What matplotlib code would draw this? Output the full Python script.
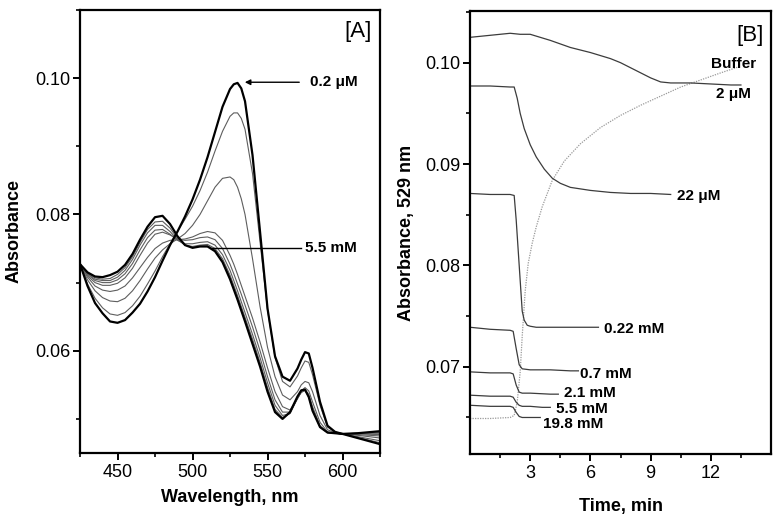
import matplotlib
matplotlib.use("Agg")
import matplotlib.pyplot as plt
from matplotlib.ticker import MultipleLocator, FormatStrFormatter

plt.rcParams['font.family'] = ['Liberation Sans', 'DejaVu Sans']

# ---------------- Panel A data: absorption spectra ----------------
wavelength = [425, 430, 435, 440, 445, 450, 455, 460, 465, 470, 475, 480, 485, 490,
              495, 500, 505, 510, 515, 520, 525, 527.5, 530, 532.5, 535, 540, 545, 550,
              555, 560, 565, 570, 572.5, 575, 577.5, 580, 585, 590, 595, 600, 610, 625]

spec_0p2uM = [0.0727, 0.0695, 0.0670, 0.0655, 0.0643, 0.0641, 0.0645, 0.0656, 0.0669, 0.0687,
              0.0708, 0.0732, 0.0755, 0.0775, 0.0797, 0.0822, 0.0851, 0.0884, 0.0921, 0.0958,
              0.0984, 0.0991, 0.0993, 0.0985, 0.0966, 0.0887, 0.0775, 0.0662,
              0.0592, 0.0562, 0.0556, 0.0574, 0.0587, 0.0598, 0.0596, 0.0575,
              0.0525, 0.0490, 0.0481, 0.0478, 0.0472, 0.0463]
spec_c2 = [0.0726, 0.0698, 0.0677, 0.0663, 0.0654, 0.0652, 0.0656, 0.0666, 0.0680, 0.0698,
           0.0717, 0.0738, 0.0757, 0.0775, 0.0793, 0.0812, 0.0835, 0.0862, 0.0893, 0.0922,
           0.0944, 0.0949, 0.0949, 0.0941, 0.0925, 0.0860, 0.0760, 0.0660,
           0.0590, 0.0555, 0.0547, 0.0563, 0.0575, 0.0585, 0.0583, 0.0565,
           0.0520, 0.0488, 0.0481, 0.0478, 0.0473, 0.0465]
spec_c3 = [0.0726, 0.0704, 0.0688, 0.0678, 0.0673, 0.0672, 0.0677, 0.0688, 0.0703, 0.0720,
           0.0736, 0.0748, 0.0757, 0.0764, 0.0772, 0.0784, 0.0800, 0.0820, 0.0840, 0.0853,
           0.0855, 0.0851, 0.0840, 0.0823, 0.0800, 0.0735, 0.0665, 0.0605,
           0.0562, 0.0535, 0.0528, 0.0540, 0.0550, 0.0555, 0.0553, 0.0540,
           0.0505, 0.0484, 0.0480, 0.0478, 0.0474, 0.0468]
spec_c4 = [0.0726, 0.0708, 0.0695, 0.0689, 0.0687, 0.0689, 0.0695, 0.0707, 0.0722, 0.0737,
           0.0750, 0.0758, 0.0762, 0.0763, 0.0764, 0.0767, 0.0772, 0.0775, 0.0773, 0.0762,
           0.0740, 0.0727, 0.0712, 0.0696, 0.0680, 0.0648, 0.0613, 0.0575,
           0.0540, 0.0518, 0.0513, 0.0530, 0.0541, 0.0546, 0.0541, 0.0525,
           0.0495, 0.0481, 0.0479, 0.0478, 0.0476, 0.0472]
spec_c5 = [0.0726, 0.0710, 0.0700, 0.0696, 0.0696, 0.0699, 0.0707, 0.0721, 0.0740, 0.0758,
           0.0771, 0.0774, 0.0770, 0.0764, 0.0762, 0.0763, 0.0766, 0.0767, 0.0763, 0.0750,
           0.0727, 0.0713, 0.0698, 0.0683, 0.0667, 0.0635, 0.0600, 0.0562,
           0.0528, 0.0510, 0.0510, 0.0530, 0.0540, 0.0543, 0.0536, 0.0518,
           0.0490, 0.0480, 0.0479, 0.0478, 0.0477, 0.0475]
spec_c6 = [0.0726, 0.0712, 0.0703, 0.0700, 0.0700, 0.0704, 0.0713, 0.0728, 0.0748, 0.0766,
           0.0777, 0.0778, 0.0771, 0.0762, 0.0757, 0.0757, 0.0759, 0.0760, 0.0755, 0.0741,
           0.0718, 0.0703, 0.0688, 0.0672, 0.0656, 0.0624, 0.0590, 0.0553,
           0.0520, 0.0505, 0.0508, 0.0530, 0.0539, 0.0542, 0.0534, 0.0516,
           0.0489, 0.0480, 0.0479, 0.0478, 0.0478, 0.0477]
spec_c7 = [0.0727, 0.0713, 0.0705, 0.0703, 0.0703, 0.0708, 0.0718, 0.0734, 0.0755, 0.0773,
           0.0784, 0.0784, 0.0775, 0.0763, 0.0755, 0.0753, 0.0755, 0.0756, 0.0750, 0.0735,
           0.0711, 0.0696, 0.0681, 0.0665, 0.0649, 0.0617, 0.0583, 0.0546,
           0.0514, 0.0502, 0.0508, 0.0531, 0.0539, 0.0542, 0.0533, 0.0514,
           0.0488, 0.0480, 0.0479, 0.0478, 0.0479, 0.0479]
spec_c8 = [0.0727, 0.0714, 0.0707, 0.0705, 0.0706, 0.0712, 0.0722, 0.0738, 0.0759, 0.0778,
           0.0789, 0.0790, 0.0780, 0.0765, 0.0755, 0.0752, 0.0754, 0.0754, 0.0748, 0.0732,
           0.0708, 0.0693, 0.0678, 0.0662, 0.0646, 0.0613, 0.0580, 0.0543,
           0.0512, 0.0501, 0.0509, 0.0533, 0.0540, 0.0542, 0.0532, 0.0513,
           0.0488, 0.0480, 0.0479, 0.0478, 0.0479, 0.0480]
spec_5p5mM = [0.0727, 0.0715, 0.0709, 0.0708, 0.0711, 0.0716, 0.0726, 0.0742, 0.0763, 0.0782,
              0.0796, 0.0798, 0.0786, 0.0768, 0.0755, 0.0751, 0.0753, 0.0753, 0.0746, 0.0730,
              0.0705, 0.0690, 0.0675, 0.0659, 0.0643, 0.0610, 0.0577, 0.0540,
              0.0510, 0.0500, 0.0510, 0.0533, 0.0542, 0.0543, 0.0532, 0.0512,
              0.0488, 0.0480, 0.0479, 0.0478, 0.0479, 0.0482]

thin_spectra = [spec_c2, spec_c3, spec_c4, spec_c5, spec_c6, spec_c7, spec_c8]

# ---------------- Panel B data: kinetics at 529 nm ----------------
t_2uM = [0, 0.5, 1, 1.5, 2, 2.5, 3, 3.5, 4, 5, 6, 7, 7.5, 8, 8.5, 9, 9.5, 10, 11, 12, 13, 13.5]
a_2uM = [0.1025, 0.1026, 0.1027, 0.1028, 0.1029, 0.1028, 0.1028, 0.1025, 0.1022, 0.1015,
         0.1010, 0.1004, 0.1000, 0.0995, 0.0990, 0.0985, 0.0981, 0.0980, 0.0980, 0.0979,
         0.0978, 0.0978]

t_buffer = [0, 1, 2, 2.2, 2.35, 2.5, 2.6, 2.75, 2.9, 3.1, 3.3, 3.6, 4.1, 4.7, 5.5, 6.5,
            7.5, 8.5, 9.5, 10.5, 11.5, 12.5, 13.4]
a_buffer = [0.0649, 0.0649, 0.0650, 0.0652, 0.0665, 0.0695, 0.0730, 0.0775, 0.0802, 0.0822,
            0.0838, 0.0858, 0.0884, 0.0903, 0.0920, 0.0936, 0.0948, 0.0958, 0.0967, 0.0976,
            0.0983, 0.0990, 0.0996]

t_22uM = [0, 1, 2, 2.2, 2.35, 2.5, 2.7, 3.0, 3.3, 3.7, 4.1, 4.5, 5, 6, 7, 8, 9, 10]
a_22uM = [0.0977, 0.0977, 0.0976, 0.0976, 0.0965, 0.0950, 0.0935, 0.0919, 0.0907, 0.0895,
          0.0886, 0.0881, 0.0877, 0.0874, 0.0872, 0.0871, 0.0871, 0.0870]

t_0p22mM = [0, 1, 2, 2.2, 2.3, 2.45, 2.6, 2.7, 2.85, 3.0, 3.3, 4, 5, 6, 6.4]
a_0p22mM = [0.0871, 0.0870, 0.0870, 0.0869, 0.0845, 0.0800, 0.0755, 0.0746, 0.0741, 0.0740,
            0.0739, 0.0739, 0.0739, 0.0739, 0.0739]

t_0p7mM = [0, 1, 2, 2.15, 2.3, 2.45, 2.6, 3, 4, 5, 5.4]
a_0p7mM = [0.0739, 0.0737, 0.0736, 0.0735, 0.0718, 0.0702, 0.0698, 0.0697, 0.0697, 0.0696, 0.0696]

t_2p1mM = [0, 1, 2, 2.15, 2.3, 2.45, 2.6, 3, 4, 4.4]
a_2p1mM = [0.0695, 0.0694, 0.0694, 0.0693, 0.0682, 0.0675, 0.0674, 0.0674, 0.0673, 0.0673]

t_5p5mM = [0, 1, 2, 2.15, 2.3, 2.45, 2.6, 3, 3.6, 4.0]
a_5p5mM = [0.0672, 0.0671, 0.0671, 0.0670, 0.0665, 0.0662, 0.0661, 0.0661, 0.0660, 0.0660]

t_19p8mM = [0.05, 1, 2, 2.15, 2.3, 2.45, 2.6, 3, 3.5]
a_19p8mM = [0.0662, 0.0661, 0.0661, 0.0660, 0.0655, 0.0651, 0.0650, 0.0650, 0.0650]

# ---------------- Figure ----------------
fig = plt.figure(figsize=(7.8, 5.18), dpi=100)
axA = fig.add_axes([0.1026, 0.1255, 0.3846, 0.8552])
axB = fig.add_axes([0.6026, 0.1236, 0.3859, 0.8552])

for ax in (axA, axB):
    for s in ax.spines.values():
        s.set_linewidth(1.6)
    ax.tick_params(which='major', direction='out', length=5, width=1.4, labelsize=13, pad=2)
    ax.tick_params(which='minor', direction='out', length=3, width=1.2)
    ax.tick_params(axis='x', which='major', pad=3)

# Panel A
for s in thin_spectra:
    axA.plot(wavelength, s, color='#5e5e5e', lw=0.8)
axA.plot(wavelength, spec_0p2uM, color='black', lw=1.6)
axA.plot(wavelength, spec_5p5mM, color='black', lw=1.6)

axA.set_xlim(425, 625)
axA.set_ylim(0.045, 0.110)
axA.xaxis.set_major_locator(MultipleLocator(50))
axA.xaxis.set_minor_locator(MultipleLocator(25))
axA.yaxis.set_major_locator(MultipleLocator(0.02))
axA.yaxis.set_minor_locator(MultipleLocator(0.01))
axA.yaxis.set_major_formatter(FormatStrFormatter('%.2f'))
axA.set_xlabel('Wavelength, nm', fontsize=13, fontweight='bold')
axA.set_ylabel('Absorbance', fontsize=13, fontweight='bold')
axA.xaxis.set_label_coords(0.5, -0.081)
axA.yaxis.set_label_coords(-0.19, 0.5)

axA.text(610.5, 0.1069, '[A]', fontsize=16, ha='center', va='center')
axA.annotate('', xy=(533, 0.0994), xytext=(573, 0.0994),
             arrowprops=dict(arrowstyle='-|>', color='black', lw=1.0, mutation_scale=8))
axA.text(578, 0.0994, '0.2 μM', fontsize=11, fontweight='bold', ha='left', va='center')
axA.plot([513, 572], [0.0751, 0.0751], color='black', lw=1.0)
axA.text(575, 0.0751, '5.5 mM', fontsize=11, fontweight='bold', ha='left', va='center')

# Panel B
kin = '#3c3c3c'
axB.plot(t_buffer, a_buffer, color='#9a9a9a', lw=0.9, ls=(0, (1, 1)))
axB.plot(t_2uM, a_2uM, color=kin, lw=0.9)
axB.plot(t_22uM, a_22uM, color=kin, lw=0.9)
axB.plot(t_0p22mM, a_0p22mM, color=kin, lw=0.9)
axB.plot(t_0p7mM, a_0p7mM, color=kin, lw=0.9)
axB.plot(t_2p1mM, a_2p1mM, color=kin, lw=0.9)
axB.plot(t_5p5mM, a_5p5mM, color=kin, lw=0.9)
axB.plot(t_19p8mM, a_19p8mM, color=kin, lw=0.9)

axB.set_xlim(0, 15)
axB.set_ylim(0.0614, 0.1051)
axB.set_xticks([3, 6, 9, 12])
axB.set_xticks([1.5, 4.5, 7.5, 10.5, 13.5], minor=True)
axB.yaxis.set_major_locator(MultipleLocator(0.01))
axB.yaxis.set_minor_locator(MultipleLocator(0.005))
axB.yaxis.set_major_formatter(FormatStrFormatter('%.2f'))
axB.set_xlabel('Time, min', fontsize=13, fontweight='bold')
axB.set_ylabel('Absorbance, 529 nm', fontsize=13, fontweight='bold')
axB.xaxis.set_label_coords(0.5, -0.099)
axB.yaxis.set_label_coords(-0.183, 0.5)

axB.text(13.95, 0.1027, '[B]', fontsize=16, ha='center', va='center')
lab = dict(fontsize=11, fontweight='bold', ha='left', va='center')
axB.text(12.0, 0.0999, 'Buffer', **lab)
axB.text(12.25, 0.0969, '2 μM', **lab)
axB.text(10.3, 0.0868, '22 μM', **lab)
axB.text(6.67, 0.0737, '0.22 mM', **lab)
axB.text(5.47, 0.0693, '0.7 mM', **lab)
axB.text(4.7, 0.0674, '2.1 mM', **lab)
axB.text(4.28, 0.0658, '5.5 mM', **lab)
axB.text(3.63, 0.0644, '19.8 mM', **lab)

fig.savefig('out.png', dpi=100)
